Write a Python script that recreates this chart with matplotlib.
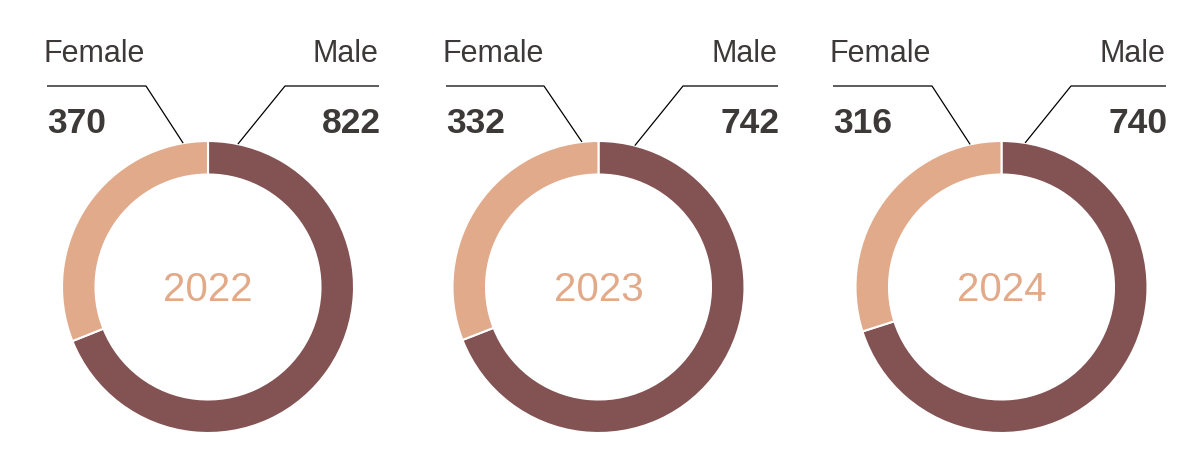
import numpy as np
import matplotlib
matplotlib.use("Agg")
import matplotlib.pyplot as plt

# ---- data ----
years = ["2022", "2023", "2024"]
male = [822, 742, 740]
female = [370, 332, 316]
series_names = ["Male", "Female"]

# ---- layout (pixel units, y measured from top) ----
W, H = 1195, 467
centers_x = [208, 598.5, 1001.5]
center_y = 287
r_out, r_in = 146, 112.5
female_text_left = [44, 443, 830]
male_text_right = [378, 777, 1165]
female_knee_x = [146, 544, 932]
male_knee_x = [285, 683, 1071]
female_end_deg = [9.8, 6.5, 12.4]
male_end_deg = [11.8, 14.4, 9.3]
label_baseline = 62
line_y = 86
number_baseline = 133

c_male = "#835253"
c_female = "#E1AA8A"
c_text = "#3D3939"
c_year = "#E2AA89"

plt.rcParams["font.family"] = ["Liberation Sans", "DejaVu Sans"]

fig = plt.figure(figsize=(W / 100, H / 100), dpi=100)
ax = fig.add_axes([0, 0, 1, 1])
ax.set_xlim(0, W)
ax.set_ylim(0, H)
ax.set_aspect("equal")
ax.axis("off")

def Y(py):
    return H - py

for i, yr in enumerate(years):
    cx, cy = centers_x[i], Y(center_y)
    ax.pie([male[i], female[i]], colors=[c_male, c_female], startangle=90,
           counterclock=False, radius=r_out, center=(cx, cy), frame=True,
           wedgeprops=dict(width=r_out - r_in, edgecolor="white", linewidth=1.5))
    ax.text(cx, Y(301), yr, ha="center", va="baseline", fontsize=29, color=c_year)

    # Female label
    fl = female_text_left[i]
    ax.text(fl, Y(label_baseline), series_names[1], ha="left", va="baseline",
            fontsize=22, color=c_text)
    ax.text(fl + 3, Y(number_baseline), str(female[i]), ha="left", va="baseline",
            fontsize=25.5, fontweight="bold", color=c_text)
    a = np.deg2rad(female_end_deg[i])
    ex, ey = cx - r_out * np.sin(a), cy + r_out * np.cos(a)
    ax.plot([fl + 3, female_knee_x[i], ex], [Y(line_y), Y(line_y), ey],
            color="black", lw=0.9, solid_capstyle="butt")

    # Male label
    mr = male_text_right[i]
    ax.text(mr, Y(label_baseline), series_names[0], ha="right", va="baseline",
            fontsize=22, color=c_text)
    ax.text(mr + 3, Y(number_baseline), str(male[i]), ha="right", va="baseline",
            fontsize=25.5, fontweight="bold", color=c_text)
    a = np.deg2rad(male_end_deg[i])
    ex, ey = cx + r_out * np.sin(a), cy + r_out * np.cos(a)
    ax.plot([mr + 1, male_knee_x[i], ex], [Y(line_y), Y(line_y), ey],
            color="black", lw=0.9, solid_capstyle="butt")

ax.set_xlim(0, W)
ax.set_ylim(0, H)
fig.savefig("out.png", dpi=100, facecolor="white")
